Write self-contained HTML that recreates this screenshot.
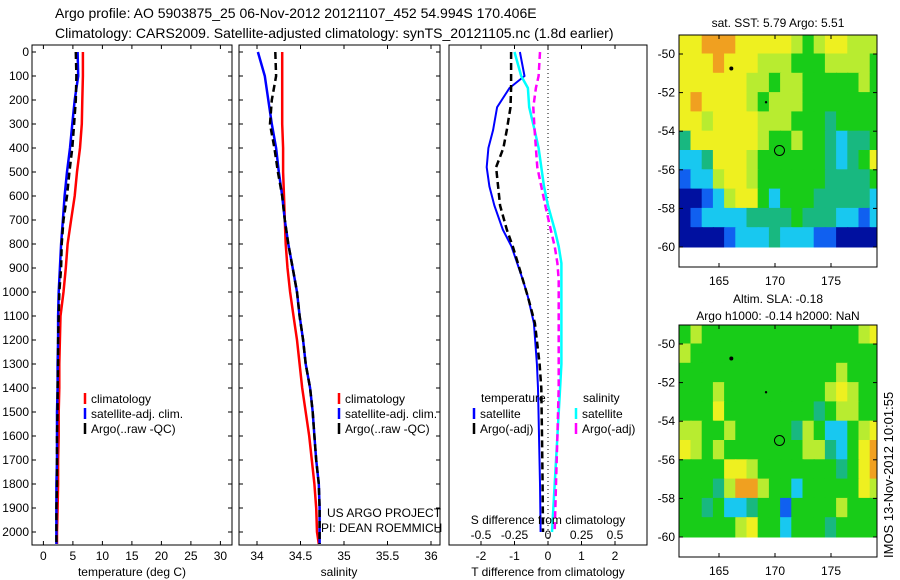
<!DOCTYPE html>
<html><head><meta charset="utf-8">
<style>
body{margin:0;background:#fff;}
svg{display:block;font-family:"Liberation Sans",sans-serif;}
</style></head>
<body>
<svg id="fig" width="900" height="580" viewBox="0 0 900 580">
<rect width="900" height="580" fill="#fff"/>
<text x="55" y="18" font-size="14">Argo profile: AO 5903875_25 06-Nov-2012 20121107_452 54.994S 170.406E</text>
<text x="55" y="38" font-size="14">Climatology: CARS2009. Satellite-adjusted climatology: synTS_20121105.nc (1.8d earlier)</text>
<g id="g1"></g>
<g id="g2"></g>
<g id="g3"></g>
<g id="m1"></g>
<g id="m2"></g>
<text transform="translate(893,558) rotate(-90)" font-size="13">IMOS 13-Nov-2012 10:01:55</text>
</svg>
<script>
const depths = [0,100,200,300,400,500,600,700,800,900,1000,1100,1200,1300,1400,1500,1600,1700,1800,1900,2000,2050];
const tempClim = [6.7,6.7,6.6,6.5,6.2,5.7,5.3,4.7,4.1,3.8,3.4,2.9,2.8,2.7,2.7,2.6,2.6,2.5,2.5,2.4,2.3,2.3];
const tempSat  = [5.8,5.9,5.3,4.9,4.5,4.0,3.6,3.3,3.0,2.8,2.6,2.5,2.5,2.4,2.4,2.3,2.3,2.3,2.2,2.2,2.2,2.2];
const tempArgo = [5.5,5.6,5.5,5.2,4.9,4.4,4.0,3.4,3.1,3.0,2.7,2.6,2.5,2.5,2.4,2.4,2.3,2.3,2.3,2.2,2.2,2.2];
const salClim = [34.29,34.29,34.29,34.29,34.30,34.30,34.31,34.32,34.33,34.35,34.38,34.42,34.46,34.49,34.52,34.56,34.60,34.63,34.66,34.68,34.69,34.71];
const salSat  = [34.01,34.09,34.13,34.17,34.22,34.25,34.29,34.32,34.36,34.41,34.46,34.49,34.53,34.56,34.61,34.64,34.66,34.68,34.71,34.72,34.72,34.72];
const salArgo = [34.21,34.22,34.17,34.15,34.20,34.24,34.29,34.32,34.36,34.41,34.46,34.49,34.53,34.56,34.61,34.64,34.66,34.68,34.71,34.72,34.72,34.72];
const diffDepths = [0,100,150,230,325,400,480,560,640,740,810,880,950,1020,1130,1300,1400,1600,1800,2000];
const dTSat  = [-0.84,-0.7,-1.15,-1.52,-1.64,-1.78,-1.83,-1.75,-1.6,-1.35,-1.09,-0.92,-0.75,-0.6,-0.42,-0.33,-0.3,-0.27,-0.24,-0.22];
const dTArgo = [-1.1,-1.1,-1.1,-1.12,-1.23,-1.33,-1.55,-1.49,-1.43,-1.23,-1.05,-0.9,-0.75,-0.6,-0.39,-0.25,-0.2,-0.18,-0.16,-0.15];
const dSSat  = [-0.25,-0.2,-0.15,-0.14,-0.1,-0.07,-0.05,-0.03,0.0,0.05,0.08,0.1,0.1,0.1,0.1,0.1,0.09,0.07,0.05,0.03];
const dSArgo = [-0.06,-0.07,-0.09,-0.11,-0.1,-0.09,-0.08,-0.05,-0.02,0.02,0.05,0.07,0.08,0.08,0.08,0.08,0.08,0.07,0.06,0.05];
const depthTicks = [0,100,200,300,400,500,600,700,800,900,1000,1100,1200,1300,1400,1500,1600,1700,1800,1900,2000];
const tempTicks = [0,5,10,15,20,25,30];
const salTicks = [34,34.5,35,35.5,36];
const salTickLabels = ["34","34.5","35","35.5","36"];
const dTTicks = [-2,-1,0,1,2];
const dSTicks = [-0.5,-0.25,0,0.25,0.5];
const dSTickLabels = ["-0.5","-0.25","0","0.25","0.5"];
const lonTicks = [165,170,175];
const latTicks = [-50,-52,-54,-56,-58,-60];
const sstGrid = [
"YYOOOYYYYYLGLYYLLL","YYYOYYYLLLGGGLLLLG","YYYYYYLLGLLGGGGGLG","YOYYYYLGLLLGGGGGGG",
"YYLYYYYLLLGGGTGGGG","TYYYYYYLGGLGGTCTTG","CCTYYYLGGGGGGTCTGY","BCCLYYLGGGGGGTTTTG",
"NNBCLYYGCGGGTTTTTC","NBCCCCTTTTGTTTCCBC","NNNNBCCCTCCCBBNNNN"];
const slaGrid = [
"GLGGGGGGGGGGGGGGLY","LGGGGGGGGGGGGGGGGG","GGGGGGGGGGGGGGLGGG","GGGLGGGGGGGGGLYLGG",
"GGGYGGGGGGGGTGLLGG","LLGGLGGGGGTLGCCGLY","YLGLGGGGGGGLLTCGYO","GGGGYYLGGGGGGGTGYO",
"GGGTLOOLGGCGGGGGYL","GGTGCCTGGBGGGGLGGG","GGGGGLYGGCGGGTGGGG"];

const NS="http://www.w3.org/2000/svg";
function mk(tag,attrs,parent,txt){const e=document.createElementNS(NS,tag);for(const k in attrs)e.setAttribute(k,attrs[k]);if(txt!==undefined)e.textContent=txt;parent.appendChild(e);return e;}
const Y0=52, YS=0.24;
function yD(d){return Y0+d*YS;}
const TOP=45, BOT=545;

function panel(g,left,right,xf,ticks,labels,showDepth,name){
  const box=mk('rect',{x:left,y:TOP,width:right-left,height:BOT-TOP,fill:'none',stroke:'#000','stroke-width':1},g);
  
  
  depthTicks.forEach(d=>{
    const y=yD(d);
    mk('line',{x1:left,x2:left+4,y1:y,y2:y,stroke:'#000'},g);
    mk('line',{x1:right,x2:right-4,y1:y,y2:y,stroke:'#000'},g);
    if(showDepth){const t=mk('text',{x:left-3,y:y+4,'font-size':12,'text-anchor':'end'},g,String(d));
      
      }
  });
  ticks.forEach((v,i)=>{
    const x=xf(v);
    mk('line',{x1:x,x2:x,y1:BOT,y2:BOT-4,stroke:'#000'},g);
    mk('line',{x1:x,x2:x,y1:TOP,y2:TOP+4,stroke:'#000'},g);
    const t=mk('text',{x:x,y:BOT+15,'font-size':12,'text-anchor':'middle'},g,labels[i]);
    
    
  });
}
function line(g,xs,ds,xf,color,w,dash,name){
  const pts=xs.map((v,i)=>xf(v).toFixed(1)+','+yD(ds[i]).toFixed(1)).join(' ');
  const p=mk('polyline',{points:pts,fill:'none',stroke:color,'stroke-width':w},g);
  if(dash)p.setAttribute('stroke-dasharray',dash);
  
  
}
function legend(g,x,y,items){
  items.forEach((it,i)=>{
    const yy=y+i*15;
    mk('line',{x1:x,x2:x,y1:yy-10,y2:yy+1,stroke:it[1],'stroke-width':2.5},g);
    const t=mk('text',{x:x+6,y:yy,'font-size':12},g,it[0]);
    
    
  });
}
function clip(id,x,y,w,h){const svg=document.getElementById('fig');const c=mk('clipPath',{id:id},svg);mk('rect',{x:x,y:y,width:w,height:h},c);}

// Panel 1
const g1=document.getElementById('g1');
const xT=t=>43.4+t*5.9;
clip('c1',32,TOP,200,BOT-TOP);
panel(g1,32,232,xT,tempTicks,tempTicks.map(String),true,'temperature');
const l1=mk('g',{'clip-path':'url(#c1)'},g1);
line(l1,tempClim,depths,xT,'#ff0000',2.5,null,'temp-climatology-line');
line(l1,tempSat,depths,xT,'#0000ff',2.5,null,'temp-satellite-line');
line(l1,tempArgo,depths,xT,'#000',2.5,'7,4','temp-argo-line');
legend(g1,85,403,[['climatology','#f00'],['satellite-adj. clim.','#00f'],['Argo(..raw -QC)','#000']]);
let t=mk('text',{x:132,y:576,'font-size':12,'text-anchor':'middle'},g1,'temperature (deg C)');



// Panel 2
const g2=document.getElementById('g2');
const xS=s=>257+(s-34)*87;
clip('c2',239,TOP,201,BOT-TOP);
panel(g2,239,440,xS,salTicks,salTickLabels,false,'salinity');
const l2=mk('g',{'clip-path':'url(#c2)'},g2);
line(l2,salClim,depths,xS,'#ff0000',2.5,null,'sal-climatology-line');
line(l2,salSat,depths,xS,'#0000ff',2.5,null,'sal-satellite-line');
line(l2,salArgo,depths,xS,'#000',2.5,'7,4','sal-argo-line');
legend(g2,339,403,[['climatology','#f00'],['satellite-adj. clim.','#00f'],['Argo(..raw -QC)','#000']]);
t=mk('text',{x:327,y:517,'font-size':12},g2,'US ARGO PROJECT');


t=mk('text',{x:321,y:532,'font-size':12},g2,'PI: DEAN ROEMMICH');


t=mk('text',{x:339,y:576,'font-size':12,'text-anchor':'middle'},g2,'salinity');



// Panel 3
const g3=document.getElementById('g3');
const xDT=v=>548+v*33.5;
const xDS=v=>548+v*134;
clip('c3',449,TOP,198,BOT-TOP);
mk('rect',{x:449,y:TOP,width:198,height:BOT-TOP,fill:'none',stroke:'#000'},g3);
dTTicks.forEach(v=>{
  const x=xDT(v);
  mk('line',{x1:x,x2:x,y1:BOT,y2:BOT-4,stroke:'#000'},g3);
  mk('line',{x1:x,x2:x,y1:TOP,y2:TOP+4,stroke:'#000'},g3);
  const tt=mk('text',{x:x,y:BOT+15,'font-size':12,'text-anchor':'middle'},g3,String(v));
  
  
});
dSTicks.forEach((v,i)=>{
  const tt=mk('text',{x:xDS(v),y:539,'font-size':12,'text-anchor':'middle'},g3,dSTickLabels[i]);
  
  
});
mk('line',{x1:548,x2:548,y1:TOP,y2:BOT,stroke:'#000','stroke-dasharray':'1,3'},g3);
const l3=mk('g',{'clip-path':'url(#c3)'},g3);
line(l3,dTSat,diffDepths,xDT,'#0000ff',2,null,'t-diff-satellite-line');
line(l3,dTArgo,diffDepths,xDT,'#000',2.5,'7,4','t-diff-argo-line');
line(l3,dSSat,diffDepths,xDS,'#00ffff',2.5,null,'s-diff-satellite-line');
line(l3,dSArgo,diffDepths,xDS,'#ff00ff',2.5,'7,4','s-diff-argo-line');
t=mk('text',{x:481,y:402,'font-size':12},g3,'temperature');


t=mk('text',{x:583,y:402,'font-size':12},g3,'salinity');


legend(g3,474,418,[['satellite','#00f'],['Argo(-adj)','#000']]);
legend(g3,576,418,[['satellite','#0ff'],['Argo(-adj)','#f0f']]);
t=mk('text',{x:548,y:524,'font-size':12,'text-anchor':'middle'},g3,'S difference from climatology');


t=mk('text',{x:548,y:576,'font-size':12,'text-anchor':'middle'},g3,'T difference from climatology');



// Maps
const COL={O:'#f0a020',Y:'#eef020',L:'#b8ec30',G:'#18cc18',T:'#18b880',C:'#18c8f0',B:'#1060f0',N:'#0010a0'};
const MX0=679,MX1=877;
const lx=lon=>719+(lon-165)*11.2;
function drawMap(g,grid,off,titles,name){
  const ly=lat=>54+off+(-50-lat)*19.3;
  clip('cm'+name,MX0,35+off,MX1-MX0,ly(-60.1)-35-off);
  const cg=mk('g',{'clip-path':'url(#cm'+name+')'},g);
  grid.forEach((row,r)=>{
    for(let c=0;c<row.length;c++){
      const x=lx(161.5+c), y=ly(-49-r);
      const cell=mk('rect',{x:x-0.5,y:y-0.5,width:12.2,height:20.3,fill:COL[row[c]]},cg);
      
      
    }
  });
  mk('rect',{x:MX0,y:35+off,width:MX1-MX0,height:232,fill:'none',stroke:'#000'},g);
  lonTicks.forEach(v=>{
    const x=lx(v);
    mk('line',{x1:x,x2:x,y1:35+off,y2:39+off,stroke:'#000'},g);
    mk('line',{x1:x,x2:x,y1:267+off,y2:263+off,stroke:'#000'},g);
    const tt=mk('text',{x:x,y:285+off,'font-size':12,'text-anchor':'middle'},g,String(v));
    
    
  });
  latTicks.forEach(v=>{
    const y=ly(v);
    mk('line',{x1:MX0,x2:MX0+4,y1:y,y2:y,stroke:'#000'},g);
    mk('line',{x1:MX1,x2:MX1-4,y1:y,y2:y,stroke:'#000'},g);
    const tt=mk('text',{x:675,y:y+4,'font-size':12,'text-anchor':'end'},g,String(v));
    
    
  });
  titles.forEach((s,i)=>{
    const tt=mk('text',{x:778,y:(titles.length==1?27:13+i*17)+off,'font-size':12,'text-anchor':'middle'},g,s);
    
    
  });
  const circ=mk('circle',{cx:lx(170.4),cy:ly(-55),r:5,fill:'none',stroke:'#000'},g);
  
  
  mk('circle',{cx:lx(166.1),cy:ly(-50.75),r:2,fill:'#000'},g);
  mk('circle',{cx:lx(169.2),cy:ly(-52.5),r:1.2,fill:'#000'},g);
}
drawMap(document.getElementById('m1'),sstGrid,0,['sat. SST: 5.79 Argo: 5.51'],'sst');
drawMap(document.getElementById('m2'),slaGrid,290,['Altim. SLA: -0.18','Argo h1000: -0.14 h2000: NaN'],'sla');
</script>
</body></html>
